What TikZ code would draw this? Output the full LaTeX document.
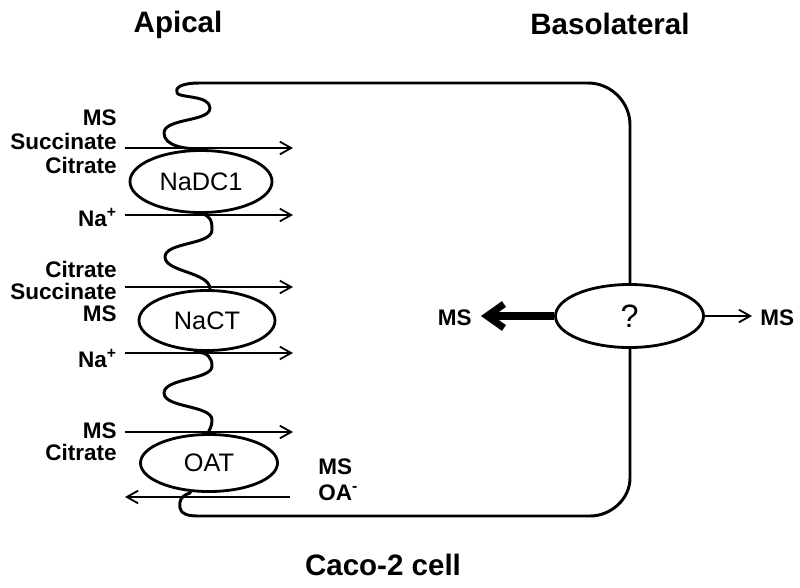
\documentclass[tikz,border=0pt]{standalone}
\usepackage{fontspec}
\setmainfont{Liberation Sans}
\usetikzlibrary{arrows.meta}
\usetikzlibrary{shapes.geometric}

\begin{document}
\begin{tikzpicture}[x=0.025cm, y=-0.025cm,
	membrane/.style={line width=2.1pt, line join=round},
	carrier/.style={ellipse, draw, line width=2pt, fill=white, inner sep=0pt, font=\fontsize{18}{20}\selectfont},
	flux/.style={line width=1.3pt, -{Straight Barb[length=8pt,width=9pt]}},
	bigflux/.style={line width=5pt, -{Straight Barb[length=12pt,width=17pt]}},
	subst/.style={font=\bfseries\fontsize{16}{17}\selectfont, inner sep=0pt},
	title/.style={font=\bfseries\fontsize{21}{24}\selectfont, inner sep=0pt, anchor=base}]

	\useasboundingbox (0,0) rectangle (800,587);

	%cell membrane
	\draw[membrane] (200,83) -- (588,83) .. controls (611,83) and (630,102) .. (630,125) -- (630,478)
		.. controls (630,499) and (611,516) .. (590,516) -- (198,516)
		.. controls (188,516) and (181,514) .. (180,508) .. controls (179,502) and (180,496) .. (190,493)
		-- (208,433)
		.. controls (209,430) and (212,427) .. (212,420) .. controls (212,405) and (164,408) .. (164,393)
		.. controls (164,378) and (212,380) .. (212,366) .. controls (212,358) and (208,352) .. (195,352)
		-- (210,289)
		.. controls (210,272) and (165,272) .. (165,257) .. controls (165,242) and (212,245) .. (212,230)
		.. controls (212,222) and (211,215) .. (201,214)
		-- (200,149)
		.. controls (185,149) and (164,146) .. (164,133) .. controls (164,118) and (210,122) .. (210,108)
		.. controls (210,95) and (179,98) .. (177,93) .. controls (175,88) and (180,83) .. (200,83) -- cycle;

	%transporters
	\node[carrier, minimum width=3.55cm, minimum height=1.55cm] (nadc) at (201,181.5) {NaDC1};
	\node[carrier, minimum width=3.4cm, minimum height=1.5cm] (nact) at (207,320.5) {NaCT};
	\node[carrier, minimum width=3.425cm, minimum height=1.425cm] (oat) at (209,463) {OAT};
	\node[carrier, minimum width=3.7cm, minimum height=1.575cm, font=\fontsize{23}{26}\selectfont] (unk) at (629.5,316) {?};

	%NaDC1 substrates
	\node[subst, anchor=base east, align=right] (nadcSub) at (117,173) {MS\\Succinate\\Citrate};
	\node[subst, anchor=base east] (nadcNa) at (117,226.5) {Na\textsuperscript{+}};
	\coordinate (nadcInL) at (125,148);
	\coordinate (nadcInR) at (293,148);
	\coordinate (nadcNaL) at (125,215);
	\coordinate (nadcNaR) at (293,215);
	\draw[flux] (nadcInL) -- (nadcInR);
	\draw[flux] (nadcNaL) -- (nadcNaR);

	%NaCT substrates
	\node[subst, anchor=base east, align=right, font=\bfseries\fontsize{16}{15.6}\selectfont] (nactSub) at (117,321.5) {Citrate\\Succinate\\MS};
	\node[subst, anchor=base east] (nactNa) at (117,367) {Na\textsuperscript{+}};
	\coordinate (nactInL) at (125,287);
	\coordinate (nactInR) at (293,287);
	\coordinate (nactNaL) at (125,353);
	\coordinate (nactNaR) at (293,353);
	\draw[flux] (nactInL) -- (nactInR);
	\draw[flux] (nactNaL) -- (nactNaR);

	%OAT exchange
	\node[subst, anchor=base east, align=right, font=\bfseries\fontsize{16}{15.6}\selectfont] (oatSub) at (117,460) {MS\\Citrate};
	\node[subst, anchor=base west, align=left, font=\bfseries\fontsize{16}{17.8}\selectfont] (oatOut) at (318,500) {MS\\OA\textsuperscript{-}};
	\coordinate (oatInL) at (125,432);
	\coordinate (oatInR) at (293,432);
	\coordinate (oatOutR) at (290,497);
	\coordinate (oatOutL) at (125,497);
	\draw[flux] (oatInL) -- (oatInR);
	\draw[flux] (oatOutR) -- (oatOutL);

	%basolateral efflux
	\node[subst, anchor=base east] (msBack) at (472,325) {MS};
	\node[subst, anchor=base west] (msOut) at (760,325) {MS};
	\coordinate (backTip) at (481,316);
	\coordinate (outTip) at (752,316);
	\draw[bigflux] (unk.west) -- (backTip);
	\draw[flux] (unk.east) -- (outTip);

	%side labels
	\node[title] (apical) at (178,32) {Apical};
	\node[title] (baso) at (610,34) {Basolateral};
	\node[title] (cell) at (383,575) {Caco-2 cell};
\end{tikzpicture}
\end{document}
